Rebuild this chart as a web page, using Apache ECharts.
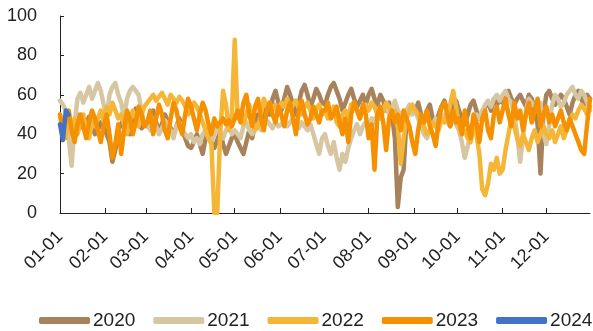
<!DOCTYPE html>
<html lang="en">
<head>
    <meta charset="UTF-8">
    <title>Yearly daily series</title>
    <script src="https://cdn.jsdelivr.net/npm/echarts@6/dist/echarts.min.js"></script>
</head>
<body style="margin:0;background:#fff;">
    <div id="chart-container" style="width:593px;height:331px;"></div>
    <script>
    // month start labels and their day-of-year
    var monthLabels = ['01-01','02-01','03-01','04-01','05-01','06-01','07-01','08-01','09-01','10-01','11-01','12-01'];
    var monthStart = [0, 31, 59, 90, 120, 151, 181, 212, 243, 273, 304, 334];

    // values read every 2nd day (day 0, 2, 4 ... 364), one line per month
    var s2020 = [
        45,42,48,44,40,46,50,47,43,45,49,44,40,42,46,44,
        40,36,26,32,42,45,48,44,40,46,53,47,43,45,
        44,48,52,46,42,45,50,47,43,40,44,48,42,38,34,
        33,36,40,35,30,38,42,36,33,37,41,35,30,34,38,
        40,36,33,30,36,42,38,45,50,47,52,55,50,58,62,56,
        52,58,64,60,55,50,56,62,65,60,54,58,63,60,56,
        55,60,64,66,62,58,52,56,60,63,58,54,57,60,55,
        60,63,58,55,60,57,52,56,50,38,3,18,22,48,54,52,
        52,56,50,46,52,55,48,45,50,54,57,52,48,55,57,
        52,48,45,50,55,57,52,48,50,54,56,52,58,55,57,
        56,60,62,58,55,58,60,57,54,60,58,52,45,20,50,
        60,62,58,55,57,60,58,54,50,56,60,62,58,55,60,58
    ];
    var s2021 = [
        57,55,52,38,24,45,58,61,56,60,64,58,62,66,62,55,
        48,60,64,66,60,56,48,58,62,64,62,60,52,45,
        45,42,48,44,40,43,47,45,42,38,44,46,42,40,38,
        40,36,38,35,40,42,38,36,40,44,40,38,42,45,40,
        42,40,38,44,46,42,40,43,45,42,44,47,45,43,46,44,
        45,47,44,46,48,45,43,46,44,42,45,40,35,30,38,
        40,34,30,36,28,22,30,26,33,38,42,45,40,44,46,
        44,48,46,50,48,52,55,50,53,57,52,50,48,52,55,50,
        52,48,44,40,38,42,45,48,44,47,50,46,44,48,45,
        42,36,28,34,40,45,50,48,52,55,57,54,58,60,57,
        60,62,58,56,50,40,26,38,52,58,56,54,52,56,40,
        35,45,55,60,58,54,56,60,62,64,60,58,62,60,56,52
    ];
    var s2022 = [
        50,44,38,46,42,48,40,45,50,42,38,46,44,48,52,46,
        54,50,56,52,48,50,45,40,47,52,48,44,50,54,
        56,58,60,57,59,61,58,55,60,58,56,59,57,54,50,
        52,56,54,50,46,42,38,35,0,0,40,62,55,42,50,
        88,48,52,45,50,55,48,42,44,50,58,54,56,52,55,50,
        56,54,58,52,55,57,53,50,54,56,52,48,53,55,50,
        52,48,50,54,46,44,50,52,48,55,56,52,48,53,55,
        52,56,54,50,48,52,56,54,50,52,45,25,38,48,52,55,
        52,50,48,44,40,42,46,44,42,48,46,50,55,62,54,
        44,40,42,38,36,44,40,30,12,9,15,25,22,28,20,
        22,32,40,48,44,38,34,40,36,32,38,42,36,40,44,
        40,38,42,36,40,44,38,42,46,50,48,52,55,53,50,54
    ];
    var s2023 = [
        50,40,48,52,42,36,45,50,44,38,46,52,48,42,36,44,
        50,40,28,35,45,30,42,52,48,40,46,54,50,44,
        46,52,40,48,55,50,42,38,48,56,52,44,40,50,58,
        54,48,42,50,56,52,45,40,48,44,46,48,45,47,44,
        48,52,46,56,60,50,44,54,58,48,42,52,56,50,46,54,
        50,44,52,56,48,40,52,57,50,45,48,54,50,46,52,
        52,56,48,50,54,46,40,48,36,50,56,52,48,55,50,
        38,45,22,50,54,46,32,48,52,46,50,42,52,48,44,36,
        30,42,50,46,52,44,40,34,46,54,56,50,44,52,46,
        48,40,52,44,38,50,46,36,48,52,42,38,50,54,46,
        52,58,50,44,56,48,52,42,50,56,46,52,58,44,50,
        54,46,50,44,48,52,46,42,48,44,40,36,32,30,45,58
    ];
    var s2024 = [45,37,52,50];

    var years = ['2020','2021','2022','2023','2024'];
    var values = [s2020, s2021, s2022, s2023, s2024];
    var colors = ['#A8825A','#D6C7A2','#F5B638','#F59100','#4472C4'];

    function toPoints(arr) {
        return arr.map(function (v, i) { return [i * 2, v]; });
    }

    var chart = echarts.init(document.getElementById('chart-container'));

    var series = years.map(function (name, k) {
        return {
            name: name,
            type: 'line',
            data: toPoints(values[k]),
            showSymbol: false,
            symbol: 'none',
            lineStyle: { width: 4.5, color: colors[k], cap: 'round', join: 'round' },
            itemStyle: { color: colors[k] }
        };
    });

    var font = 'Liberation Sans, Arial, sans-serif';

    var option = {
        animation: false,
        grid: { left: 60, right: 3, top: 16, bottom: 118, outerBoundsMode: 'none' },
        legend: {
            data: years,
            left: 34,
            top: 306,
            width: 570,
            icon: 'roundRect',
            itemWidth: 51,
            itemHeight: 7,
            itemGap: 18,
            textStyle: { fontSize: 19, color: '#222', fontFamily: font, padding: [0, 0, 0, -2] }
        },
        xAxis: {
            type: 'value',
            min: 0,
            max: 364,
            splitLine: { show: false },
            axisLine: { lineStyle: { color: '#222', width: 1 } },
            axisTick: { inside: true, length: 5, customValues: monthStart, lineStyle: { color: '#222' } },
            axisLabel: {
                customValues: monthStart,
                rotate: 45,
                margin: 21,
                fontSize: 18,
                color: '#222',
                fontFamily: font,
                formatter: function (v) { return monthLabels[monthStart.indexOf(v)]; }
            }
        },
        yAxis: {
            type: 'value',
            min: 0,
            max: 100,
            interval: 20,
            splitLine: { show: false },
            axisLine: { show: true, lineStyle: { color: '#222', width: 1 } },
            axisTick: { show: true, inside: true, length: 4, lineStyle: { color: '#222' } },
            axisLabel: { fontSize: 18, color: '#222', margin: 23, fontFamily: font }
        },
        series: series
    };

    chart.setOption(option);
    </script>
</body>
</html>
